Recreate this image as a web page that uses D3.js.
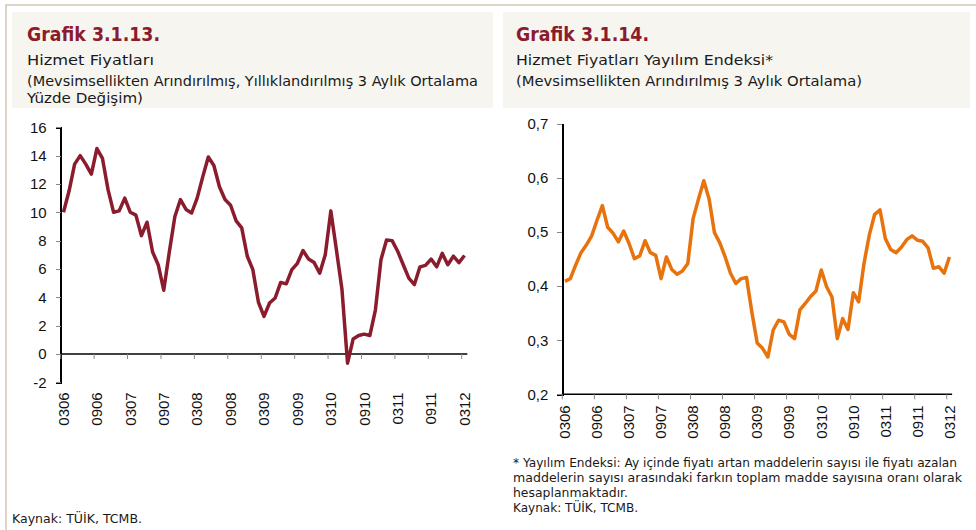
<!DOCTYPE html>
<meta charset="utf-8">
<head>
	<title>Hizmet Fiyatları</title>
</head>

<style>
body{
	margin: 0;
	background: #fff;
}
svg{
	display: block;
}
.axis line, .axis path{
	shape-rendering: crispEdges;
}
</style>

<body>

<svg id="chart" width="976" height="530"></svg>

<script src="https://cdnjs.cloudflare.com/ajax/libs/d3/7.8.5/d3.min.js"></script>
<script>

// aylar (AAYY), 0306 - 0312
var months = [
	'0306','0406','0506','0606','0706','0806','0906','1006','1106','1206','0107','0207',
	'0307','0407','0507','0607','0707','0807','0907','1007','1107','1207','0108','0208',
	'0308','0408','0508','0608','0708','0808','0908','1008','1108','1208','0109','0209',
	'0309','0409','0509','0609','0709','0809','0909','1009','1109','1209','0110','0210',
	'0310','0410','0510','0610','0710','0810','0910','1010','1110','1210','0111','0211',
	'0311','0411','0511','0611','0711','0811','0911','1011','1111','1211','0112','0212',
	'0312'
];

var monthTicks = ['0306','0906','0307','0907','0308','0908','0309','0909','0310','0910','0311','0911','0312'];

// Grafik 3.1.13 - yüzde değişim
var hizmet = [
	10.0, 11.5, 13.4, 14.0, 13.4, 12.7, 14.5, 13.8, 11.6, 10.0, 10.1, 11.0,
	10.0, 9.8, 8.35, 9.3, 7.2, 6.3, 4.5, 7.2, 9.7, 10.9, 10.2, 9.95,
	11.0, 12.5, 13.9, 13.3, 11.8, 10.9, 10.5, 9.4, 8.9, 6.9, 5.95, 3.65,
	2.65, 3.6, 3.95, 5.05, 4.95, 5.95, 6.4, 7.3, 6.7, 6.45, 5.7, 7.0,
	10.1, 7.35, 4.55, -0.65, 1.05, 1.3, 1.4, 1.3, 3.1, 6.65, 8.05, 8.0,
	7.25, 6.3, 5.35, 4.9, 6.15, 6.25, 6.7, 6.15, 7.1, 6.3, 6.9, 6.45,
	6.95
];
var hizmetTicks = [-2, 0, 2, 4, 6, 8, 10, 12, 14, 16];

// Grafik 3.1.14 - yayılım endeksi
var yayilim = [
	0.409, 0.414, 0.439, 0.462, 0.476, 0.493, 0.522, 0.549, 0.509, 0.498, 0.482, 0.502,
	0.479, 0.451, 0.456, 0.484, 0.462, 0.457, 0.414, 0.454, 0.431, 0.422, 0.428, 0.442,
	0.525, 0.561, 0.595, 0.561, 0.499, 0.480, 0.454, 0.424, 0.405, 0.414, 0.416, 0.352,
	0.295, 0.285, 0.269, 0.319, 0.337, 0.334, 0.311, 0.303, 0.356, 0.368, 0.381, 0.391,
	0.430, 0.399, 0.380, 0.303, 0.340, 0.320, 0.388, 0.371, 0.442, 0.495, 0.533, 0.541,
	0.488, 0.468, 0.462, 0.472, 0.486, 0.493, 0.485, 0.483, 0.471, 0.433, 0.436, 0.424,
	0.454
];
var yayilimTicks = [0.2, 0.3, 0.4, 0.5, 0.6, 0.7];

var svg = d3.select('#chart');
var titleFont = '"DejaVu Sans", sans-serif';
var axisFont = '"Liberation Sans", Arial, sans-serif';

// çerçeve ve başlık kutuları
svg.append('line')
	.attr('x1', 5).attr('y1', 5).attr('x2', 976).attr('y2', 5)
	.attr('stroke', '#ddd4c7').attr('stroke-width', 2);
svg.append('line')
	.attr('x1', 6).attr('y1', 5).attr('x2', 6).attr('y2', 530)
	.attr('stroke', '#ddd4c7').attr('stroke-width', 2);
svg.append('rect')
	.attr('x', 12).attr('y', 12).attr('width', 481).attr('height', 96)
	.attr('fill', '#f7f5f0');
svg.append('rect')
	.attr('x', 503).attr('y', 12).attr('width', 467).attr('height', 96)
	.attr('fill', '#f7f5f0');

function addText(x, y, str, size, opts){
	opts = opts || {};
	var t = svg.append('text')
		.attr('x', x)
		.attr('y', y)
		.attr('font-family', titleFont)
		.attr('font-size', size)
		.attr('fill', opts.color || '#1a1a1a')
		.text(str);
	if(opts.bold) t.attr('font-weight', 'bold');
	if(opts.len) t.attr('textLength', opts.len).attr('lengthAdjust', 'spacingAndGlyphs');
	return t;
}

// başlıklar
addText(27, 40.5, 'Grafik 3.1.13.', 20, {bold: true, color: '#8b1c2d', len: 133});
addText(27, 65, 'Hizmet Fiyatları', 14.5, {len: 127});
addText(27, 86, '(Mevsimsellikten Arındırılmış, Yıllıklandırılmış 3 Aylık Ortalama', 13.5, {len: 451});
addText(27, 103, 'Yüzde Değişim)', 13.5, {len: 116});

addText(516, 40.5, 'Grafik 3.1.14.', 20, {bold: true, color: '#8b1c2d', len: 133});
addText(516, 65, 'Hizmet Fiyatları Yayılım Endeksi*', 14.5, {len: 257});
addText(516, 86, '(Mevsimsellikten Arındırılmış 3 Aylık Ortalama)', 13.5, {len: 346});

// dipnotlar
addText(513, 467, '* Yayılım Endeksi: Ay içinde fiyatı artan maddelerin sayısı ile fiyatı azalan', 11.5, {len: 444});
addText(513, 482, 'maddelerin sayısı arasındaki farkın toplam madde sayısına oranı olarak', 11.5, {len: 449});
addText(513, 497, 'hesaplanmaktadır.', 11.5, {len: 115});
addText(513, 512, 'Kaynak: TÜİK, TCMB.', 11.5, {len: 125});
addText(12, 523, 'Kaynak: TÜİK, TCMB.', 11.5, {len: 130});

// bir grafik çiz
function drawChart(cfg){
	var x = d3.scaleBand()
		.domain(months)
		.range([cfg.left, cfg.right]);

	var y = d3.scaleLinear()
		.domain(cfg.domain)
		.range([cfg.bottom, cfg.top]);

	var g = svg.append('g');

	// y ekseni
	var yAxis = d3.axisLeft(y)
		.tickValues(cfg.ticks)
		.tickSize(5)
		.tickPadding(cfg.tickPad)
		.tickFormat(cfg.format);

	var ya = g.append('g')
		.attr('class', 'axis')
		.attr('transform', 'translate(' + cfg.left + ',0)')
		.call(yAxis);
	ya.select('.domain').attr('stroke', '#000').attr('stroke-width', 1.5);
	ya.selectAll('.tick line').attr('stroke', '#888');
	ya.selectAll('.tick text')
		.attr('font-family', axisFont)
		.attr('font-size', 15)
		.attr('fill', '#111');

	// x ekseni (çizgi)
	var xAxisY = y(cfg.xAxisAt);
	g.append('line')
		.attr('x1', cfg.left).attr('x2', cfg.right)
		.attr('y1', xAxisY).attr('y2', xAxisY)
		.attr('stroke', '#000').attr('stroke-width', 1.5);

	g.selectAll('.xtick')
		.data(monthTicks)
		.enter()
		.append('line')
		.attr('class', 'xtick')
		.attr('x1', function(d){ return x(d); })
		.attr('x2', function(d){ return x(d); })
		.attr('y1', xAxisY)
		.attr('y2', xAxisY + 5)
		.attr('stroke', '#888');

	g.selectAll('.xlabel')
		.data(monthTicks)
		.enter()
		.append('text')
		.attr('class', 'xlabel')
		.attr('transform', function(d){
			return 'translate(' + (x(d) + x.bandwidth() / 2) + ',' + (cfg.bottom + cfg.labelGap) + ') rotate(-90)';
		})
		.attr('text-anchor', 'end')
		.attr('dy', '0.35em')
		.attr('font-family', axisFont)
		.attr('font-size', 15)
		.attr('fill', '#111')
		.text(function(d){ return d; });

	// seri
	var line = d3.line()
		.x(function(d, i){ return x(months[i]) + x.bandwidth() / 2; })
		.y(function(d){ return y(d); });

	g.append('path')
		.datum(cfg.data)
		.attr('d', line)
		.attr('fill', 'none')
		.attr('stroke', cfg.color)
		.attr('stroke-width', cfg.width)
		.attr('stroke-linejoin', 'round');
}

var tamsayi = d3.formatLocale({decimal: ',', thousands: '.', grouping: [3], currency: ['', ''], minus: '-'});

drawChart({
	data: hizmet,
	left: 60.7, right: 467.3,
	top: 127.3, bottom: 382.3,
	domain: [-2, 16],
	ticks: hizmetTicks,
	xAxisAt: 0,
	format: tamsayi.format('d'),
	tickPad: 9,
	labelGap: 10,
	color: '#8b1c2d',
	width: 3.5
});

drawChart({
	data: yayilim,
	left: 562.3, right: 952.1,
	top: 124, bottom: 394.3,
	domain: [0.2, 0.7],
	ticks: yayilimTicks,
	xAxisAt: 0.2,
	format: tamsayi.format('.1f'),
	tickPad: 9,
	labelGap: 11,
	color: '#e8720c',
	width: 3.5
});

</script>

</body>
</html>
